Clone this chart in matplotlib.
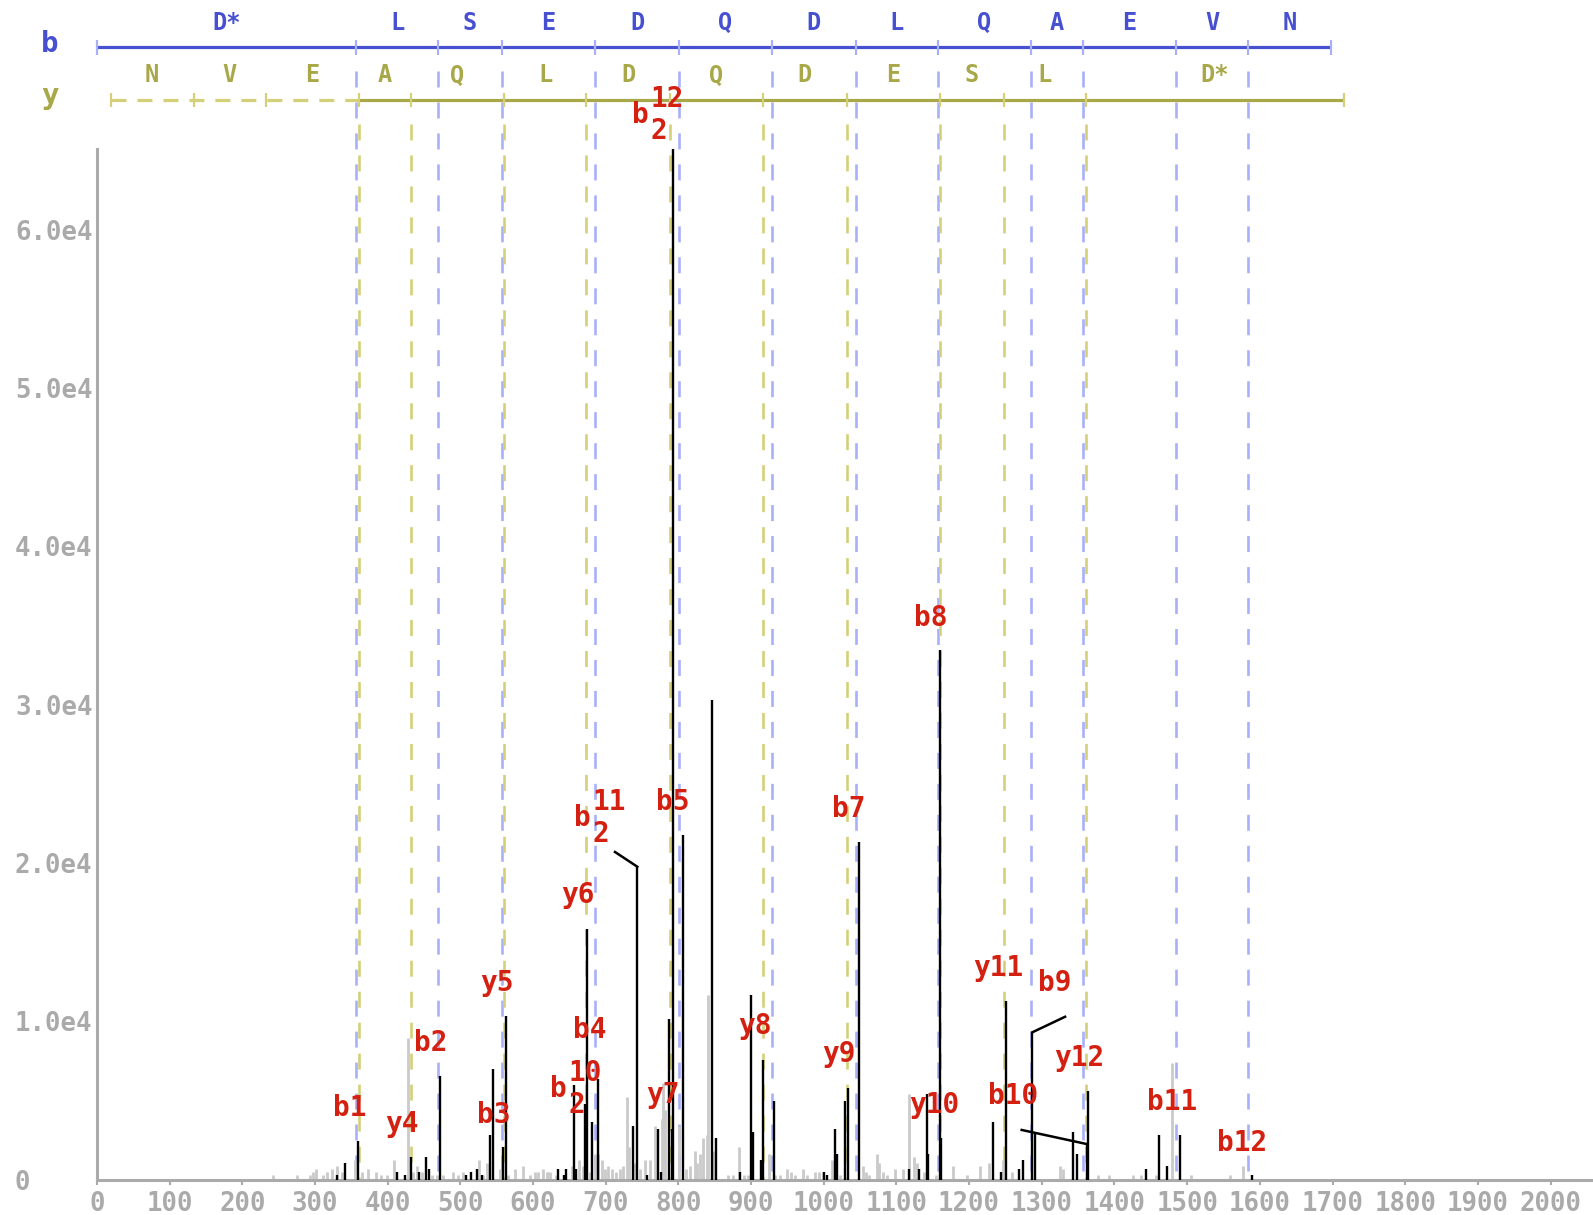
import matplotlib
matplotlib.use('Agg')
import matplotlib.pyplot as plt
from matplotlib.transforms import blended_transform_factory, offset_copy

# ---------------- data ----------------
b_residues = ['D*', 'L', 'S', 'E', 'D', 'Q', 'D', 'L', 'Q', 'A', 'E', 'V', 'N']
y_residues = ['N', 'V', 'E', 'A', 'Q', 'L', 'D', 'Q', 'D', 'E', 'S', 'L', 'D*']
b_ions = [356.6, 469.7, 556.7, 685.8, 800.8, 928.9, 1043.9, 1157.0, 1285.1,
          1356.1, 1485.2, 1584.2, 1698.2]
y_ions = [19.0, 133.1, 232.1, 361.2, 432.2, 560.3, 673.4, 788.4, 916.4,
          1031.5, 1160.5, 1247.6, 1360.6, 1716.2]

matched_mz = [329.9, 341.3, 359.7, 413.3, 423.9, 431.7, 443.6, 452.8, 457.4, 472.0,
              507.8, 514.7, 522.5, 529.4, 540.8, 544.5, 559.2, 562.8, 634.8, 642.2,
              645.4, 656.8, 659.1, 671.5, 673.8, 681.6, 689.0, 737.1, 743.5, 757.3,
              772.4, 775.7, 787.1, 791.3, 792.6, 805.9, 845.8, 851.8, 884.8, 899.5,
              902.8, 913.2, 916.9, 932.0, 1000.2, 1004.9, 1015.0, 1017.8, 1029.2, 1033.8,
              1048.5, 1117.7, 1131.5, 1141.6, 1143.9, 1160.0, 1162.0, 1233.3, 1243.4, 1250.7,
              1269.0, 1273.7, 1287.0, 1291.0, 1342.5, 1348.0, 1361.8, 1363.6, 1443.4, 1461.7,
              1471.8, 1490.6, 1588.8]
matched_int = [280, 1060, 2430, 490, 280, 1440, 490, 1440, 660, 6540,
               280, 490, 660, 280, 2810, 6980, 2030, 10330, 660, 284,
               660, 5970, 663, 4770, 15830, 3610, 6330, 3380, 19760, 284,
               3170, 495, 10140, 3170, 65080, 21760, 30300, 2600, 495, 11650,
               2980, 1232, 7550, 4960, 495, 284, 3190, 1611, 4960, 5780,
               21300, 663, 663, 5380, 1611, 33440, 2640, 3610, 495, 11280,
               663, 1232, 9300, 2920, 2980, 1611, 2240, 5590, 663, 2811,
               853, 2811, 284]

other_mz = [242.7, 274.9, 293.2, 296.9, 301.0, 311.5, 316.1, 323.0, 330.8, 336.8,
            355.1, 365.2, 373.4, 384.0, 390.9, 398.7, 409.2, 428.4, 435.3, 440.0,
            446.9, 460.6, 467.5, 476.6, 489.5, 497.2, 504.1, 526.1, 531.6, 537.1,
            554.6, 566.0, 575.2, 585.8, 595.9, 602.7, 607.3, 613.3, 618.8, 621.0,
            623.4, 631.6, 653.2, 663.7, 668.3, 678.4, 685.3, 689.8, 694.5, 699.0,
            703.6, 708.2, 714.2, 719.7, 724.2, 728.9, 732.5, 740.3, 747.2, 754.1,
            761.0, 767.8, 777.0, 779.3, 781.6, 801.3, 810.5, 816.0, 822.9, 826.1,
            829.8, 834.3, 838.9, 841.2, 848.0, 868.7, 875.6, 883.8, 890.3, 896.2,
            925.1, 932.9, 939.8, 949.0, 954.5, 960.4, 971.9, 976.5, 987.9, 993.9,
            999.4, 1010.9, 1022.4, 1054.4, 1058.1, 1062.7, 1072.9, 1076.5, 1081.1, 1086.6,
            1098.0, 1108.6, 1117.3, 1124.2, 1127.9, 1137.9, 1154.4, 1178.3, 1196.7, 1215.0,
            1227.8, 1246.2, 1258.6, 1325.0, 1329.6, 1377.3, 1392.5, 1425.0, 1436.0, 1457.1,
            1479.6, 1504.8, 1558.9, 1577.2]
other_int = [284, 284, 284, 495, 663, 284, 495, 663, 853, 495,
             1232, 495, 663, 495, 284, 284, 1232, 8930, 495, 853,
             495, 284, 284, 284, 495, 284, 495, 1232, 284, 1063,
             663, 284, 663, 853, 284, 495, 495, 663, 495, 495,
             495, 284, 853, 1232, 853, 495, 1611, 1611, 1232, 663,
             853, 663, 495, 663, 853, 5230, 2032, 1063, 663, 1232,
             1232, 3380, 3800, 6100, 4390, 3380, 663, 853, 1800, 1063,
             1611, 2600, 2811, 11650, 1800, 284, 284, 2032, 284, 284,
             1611, 284, 284, 663, 495, 284, 663, 284, 495, 495,
             495, 1232, 284, 853, 495, 284, 1611, 1063, 495, 284,
             663, 663, 5400, 1420, 1063, 495, 284, 853, 284, 853,
             1063, 1232, 495, 853, 663, 284, 284, 284, 284, 284,
             7360, 284, 284, 853]

ion_labels = ['b1', 'y4', 'b2', 'b3', 'y5', 'y6', 'b4', 'b5', 'y7', 'y8', 'b7', 'y9',
              'b8', 'y10', 'y11', 'b9', 'b10', 'y12', 'b11', 'b12']
charged_labels = [('b', '10', '2'), ('b', '11', '2'), ('b', '12', '2')]
leader_peaks = [743.5, 1287.0, 1361.8]     # peaks reached by leader lines

y_tick_vals = [0, 10000, 20000, 30000, 40000, 50000, 60000]
y_tick_text = ['0', '1.0e4', '2.0e4', '3.0e4', '4.0e4', '5.0e4', '6.0e4']
x_tick_vals = list(range(0, 2001, 100))

# ---------------- layout ----------------
label_pos = [(348.2, 4010), (419.7, 3020), (459.7, 8120), (546.3, 3590), (549.8, 11930),
             (661.9, 17450), (678.4, 8960), (792.6, 23340), (778.1, 4810), (905.4, 9190),
             (1034.7, 22920), (1020.9, 7440), (1147.0, 34980), (1151.7, 4220),
             (1240.4, 12860), (1318.2, 11910), (1260.4, 4770), (1351.2, 7170),
             (1479.1, 4390), (1576.1, 1800)]
charged_pos = [(635.1, 5230), (668.1, 22350), (747.9, 66720)]
leader_start = [(712.8, 20690), (1332.0, 10280), (1272.3, 3130)]

W, H = 1593, 1215
X0, XS = 96.9, 0.72685          # px of m/z 0, px per Da
YZERO, YTOP = 1179.5, 149.3

BLUE = '#4650d0'
LBLUE = '#a8b0f8'
OLIVE = '#a8a848'
LOLIVE = '#d4d07a'
RED = '#d42010'
GRAY = '#aaaaaa'
PEAKGRAY = '#cacaca'
MONO = 'DejaVu Sans Mono'

plt.rcParams['lines.scale_dashes'] = False

fig = plt.figure(figsize=(W / 100, H / 100), dpi=100)
ax = fig.add_axes([X0 / W, (H - YZERO) / H, (W - X0) / W, (YZERO - YTOP) / H])
ax.set_autoscale_on(False)
ax.set_xlim(0, (W - X0) / XS)
ax.set_ylim(0, max(matched_int))

tr_top = blended_transform_factory(ax.transData, fig.transFigure)
tr_ax = blended_transform_factory(ax.transData, ax.transAxes)


def fy(px):
    return 1 - px / H


def axfrac(px):
    return (YZERO - px) / (YZERO - YTOP)


dash = (0, (11.5, 10.8))
# dashed guide lines
for m in b_ions[:-1]:
    ax.plot([m, m], [axfrac(71), 0], transform=tr_ax, color=LBLUE, lw=1.9,
            ls=dash, clip_on=False, zorder=1)
for m in y_ions[3:-1]:
    ax.plot([m, m], [axfrac(124), 0], transform=tr_ax, color=LOLIVE, lw=1.9,
            ls=dash, clip_on=False, zorder=1)

# peaks
ax.vlines(other_mz, 0, other_int, colors=PEAKGRAY, lw=2.0, capstyle='butt', zorder=2)
ax.vlines(matched_mz, 0, matched_int, colors='black', lw=1.7, capstyle='butt', zorder=3)

# b row
ax.plot([0, b_ions[-1]], [fy(47.3)] * 2, transform=tr_top, color=BLUE, lw=2.3,
        clip_on=False, solid_capstyle='butt')
ax.vlines([0] + b_ions, fy(55), fy(40), transform=tr_top, colors=LBLUE, lw=1.6,
          clip_on=False)
b_edges = [0] + b_ions
for i, r in enumerate(b_residues):
    mid = (b_edges[i] + b_edges[i + 1]) / 2
    ax.text(mid, fy(30), r, transform=tr_top, ha='center', va='baseline',
            color=BLUE, fontsize=17, fontweight='bold', family=MONO)
fig.text(49.6 / W, fy(51.5), 'b', ha='center', va='baseline', color=BLUE,
         fontsize=21, fontweight='bold', family=MONO)

# y row
ax.plot([y_ions[0], y_ions[3]], [fy(100)] * 2, transform=tr_top, color=LOLIVE, lw=2.3,
        ls=(0, (10.8, 7.9)), clip_on=False)
ax.plot([y_ions[3], y_ions[-1]], [fy(100)] * 2, transform=tr_top, color=OLIVE, lw=2.3,
        clip_on=False, solid_capstyle='butt')
ax.vlines(y_ions, fy(107), fy(93), transform=tr_top, colors=LOLIVE, lw=1.6,
          clip_on=False)
for i, r in enumerate(y_residues):
    mid = (y_ions[i] + y_ions[i + 1]) / 2
    ax.text(mid, fy(82.5), r, transform=tr_top, ha='center', va='baseline',
            color=OLIVE, fontsize=17, fontweight='bold', family=MONO)
fig.text(49.6 / W, fy(104), 'y', ha='center', va='baseline', color=OLIVE,
         fontsize=21, fontweight='bold', family=MONO)

# leaders
for (sx, sy), pk in zip(leader_start, leader_peaks):
    h = matched_int[matched_mz.index(pk)]
    ax.plot([sx, pk], [sy, h], color='black', lw=1.8, clip_on=False, zorder=3)

# ion labels
lab_kw = dict(color=RED, fontsize=20, fontweight='bold', family=MONO, zorder=5,
              clip_on=False)
for t, (mx, iy) in zip(ion_labels, label_pos):
    ax.text(mx, iy, t, ha='center', va='baseline', **lab_kw)
for (ion, num, z), (mx, iy) in zip(charged_labels, charged_pos):
    ax.text(mx, iy, ion, ha='center', va='baseline', **lab_kw)
    ax.text(mx, iy, num, ha='left', va='baseline',
            transform=offset_copy(ax.transData, fig=fig, x=10, y=16, units='dots'),
            **lab_kw)
    ax.text(mx, iy, z, ha='left', va='baseline',
            transform=offset_copy(ax.transData, fig=fig, x=10, y=-16, units='dots'),
            **lab_kw)

# axes styling
for s in ['top', 'right']:
    ax.spines[s].set_visible(False)
for s in ['left', 'bottom']:
    ax.spines[s].set_color(GRAY)
    ax.spines[s].set_linewidth(2.2)

ax.set_xticks(x_tick_vals)
ax.set_xticklabels([str(v) for v in x_tick_vals])
ax.tick_params(axis='x', colors=GRAY, length=3.5, width=1.5, pad=5)
for lab in ax.get_xticklabels():
    lab.set_fontfamily(MONO)
    lab.set_fontweight('bold')
    lab.set_fontsize(18.5)
    lab.set_color(GRAY)

ax.set_yticks(y_tick_vals)
ax.set_yticklabels(y_tick_text)
ax.tick_params(axis='y', length=0, pad=(X0 - 15) * 0.72)
for lab in ax.get_yticklabels():
    lab.set_fontfamily(MONO)
    lab.set_fontweight('bold')
    lab.set_fontsize(18.5)
    lab.set_color(GRAY)
    lab.set_horizontalalignment('left')

fig.savefig('out.png', dpi=100)
